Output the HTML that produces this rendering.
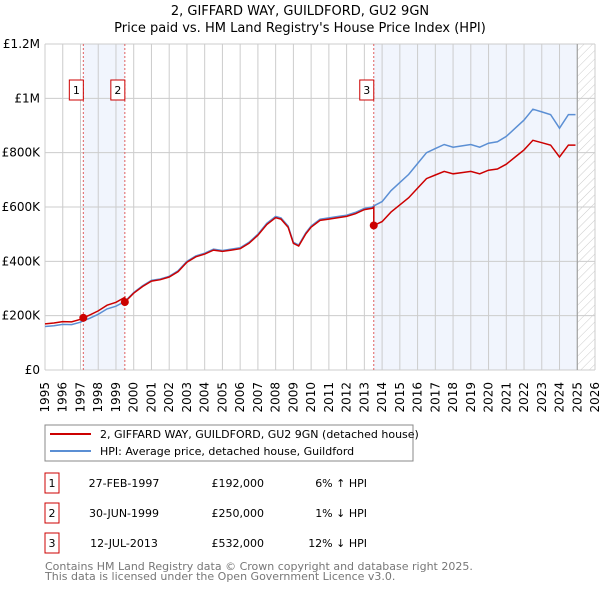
<!DOCTYPE html>
<html><head><meta charset="utf-8"><style>
body{margin:0;background:#fff;}
svg{display:block;font-family:"DejaVu Sans","Liberation Sans",sans-serif;}
</style></head><body>
<svg id="chart" width="600" height="590" viewBox="0 0 600 590" xmlns="http://www.w3.org/2000/svg">
<defs><pattern id="hatch" width="6" height="6" patternUnits="userSpaceOnUse" patternTransform="rotate(45)"><line x1="0" y1="0" x2="0" y2="6" stroke="#ccc" stroke-width="1"/></pattern></defs>
<text x="300" y="15" text-anchor="middle" font-size="13">2, GIFFARD WAY, GUILDFORD, GU2 9GN</text>
<text x="300" y="32" text-anchor="middle" font-size="13">Price paid vs. HM Land Registry's House Price Index (HPI)</text>
<g id="grid"></g>
<g id="marks"></g>
<g id="axes"></g>
<rect x="45" y="425" width="368" height="36" fill="#fff" stroke="#888"/>
<line x1="50" y1="434" x2="91" y2="434" stroke="#cc0000" stroke-width="2"/>
<text x="100" y="438" font-size="11">2, GIFFARD WAY, GUILDFORD, GU2 9GN (detached house)</text>
<line x1="50" y1="451" x2="91" y2="451" stroke="#5b8fd4" stroke-width="2"/>
<text x="100" y="455" font-size="11">HPI: Average price, detached house, Guildford</text>
<g id="table" font-size="11"></g>
<text x="45" y="570" font-size="11" fill="#777">Contains HM Land Registry data © Crown copyright and database right 2025.</text>
<text x="45" y="580" font-size="11" fill="#777">This data is licensed under the Open Government Licence v3.0.</text>
</svg>
<script>
const hpiYears=[1995,1995.5,1996,1996.5,1997,1997.16,1997.5,1998,1998.5,1999,1999.5,2000,2000.5,2001,2001.5,2002,2002.5,2003,2003.5,2004,2004.5,2005,2005.5,2006,2006.5,2007,2007.5,2008,2008.3,2008.7,2009,2009.3,2009.7,2010,2010.5,2011,2011.5,2012,2012.5,2013,2013.45,2013.53,2014,2014.5,2015,2015.5,2016,2016.5,2017,2017.5,2018,2018.5,2019,2019.5,2020,2020.5,2021,2021.5,2022,2022.5,2023,2023.5,2024,2024.5,2024.9];
const hpiValues=[160,163,168,167,176,181,190,205,225,235,252,285,310,330,335,345,365,400,420,430,445,440,445,450,470,500,540,565,560,530,470,460,505,530,555,560,565,570,580,595,600,604,620,660,690,720,760,800,815,830,820,825,830,820,835,840,860,890,920,960,950,940,890,940,940];
const saleYears=[1997.16,1999.5,2013.53];
const salePrices=[192,250,532];
const saleLabels=["1","2","3"];
const saleDates=["27-FEB-1997","30-JUN-1999","12-JUL-2013"];
const salePriceText=["£192,000","£250,000","£532,000"];
const saleHpiText=["6% ↑ HPI","1% ↓ HPI","12% ↓ HPI"];
const yTicks=[0,200,400,600,800,1000,1200];
const yTickLabels=["£0","£200K","£400K","£600K","£800K","£1M","£1.2M"];
const xStart=1995,xEnd=2026;
const L=45,R=595,T=44,B=370;
const xs=y=>L+(y-xStart)/(xEnd-xStart)*(R-L);
const ys=v=>B-v/1200*(B-T);
const NS="http://www.w3.org/2000/svg";
function mk(tag,attrs,parent){const e=document.createElementNS(NS,tag);for(const k in attrs)e.setAttribute(k,attrs[k]);parent.appendChild(e);return e;}
const grid=document.getElementById('grid'),marks=document.getElementById('marks'),axes=document.getElementById('axes'),table=document.getElementById('table');
let r=mk('rect',{x:xs(saleYears[0]),y:T,width:xs(saleYears[1])-xs(saleYears[0]),height:B-T,fill:'#eef3fc',opacity:0.8},grid);

r=mk('rect',{x:xs(saleYears[2]),y:T,width:xs(2025)-xs(saleYears[2]),height:B-T,fill:'#eef3fc',opacity:0.8},grid);

r=mk('rect',{x:xs(2025),y:T,width:R-xs(2025),height:B-T,fill:'url(#hatch)'},grid);

for(let yr=xStart;yr<=xEnd;yr++){
  const l=mk('line',{x1:xs(yr),x2:xs(yr),y1:T,y2:B,stroke:'#ccc','stroke-width':1},grid);
  
  const x=xs(yr)+4,y=382;
  const t=mk('text',{x:x,y:y,'text-anchor':'end','font-size':12,transform:'rotate(-90 '+x+' '+y+')'},axes);t.textContent=yr;
  
}
yTicks.forEach((v,i)=>{
  const l=mk('line',{x1:L,x2:R,y1:ys(v),y2:ys(v),stroke:'#ccc','stroke-width':1},grid);
  
  const t=mk('text',{x:L-5,y:ys(v)+4,'text-anchor':'end','font-size':12},axes);t.textContent=yTickLabels[i];
  
});
r=mk('line',{x1:xs(2025),x2:xs(2025),y1:T,y2:B,stroke:'#999','stroke-width':1},grid);

function hpiAt(t){for(let i=0;i<hpiYears.length-1;i++){if(t<=hpiYears[i+1]){const f=(t-hpiYears[i])/(hpiYears[i+1]-hpiYears[i]);return hpiValues[i]+f*(hpiValues[i+1]-hpiValues[i]);}}return hpiValues[hpiValues.length-1];}
saleYears.forEach((s,i)=>{
  const l=mk('line',{x1:xs(s),x2:xs(s),y1:T,y2:B,stroke:'#e06060','stroke-width':1,'stroke-dasharray':'2,2'},grid);
  
  const b=mk('rect',{x:xs(s)-14,y:80,width:14,height:20,fill:'#fff',stroke:'#cc0000'},marks);
  
  const t=mk('text',{x:xs(s)-7,y:94,'text-anchor':'middle','font-size':11},marks);t.textContent=saleLabels[i];
  
});
let d='';hpiYears.forEach((y,i)=>{d+=(i?'L':'M')+xs(y).toFixed(1)+','+ys(hpiValues[i]).toFixed(1);});
let p=mk('path',{d:d,fill:'none',stroke:'#5b8fd4','stroke-width':1.5},marks);

function saleIdx(t){let k=0;for(let i=0;i<saleYears.length;i++)if(t>=saleYears[i])k=i;return k;}
d='';hpiYears.forEach((y,i)=>{const k=saleIdx(y);const v=salePrices[k]*hpiValues[i]/hpiAt(saleYears[k]);d+=(i?'L':'M')+xs(y).toFixed(1)+','+ys(v).toFixed(1);
  if(i<hpiYears.length-1){const nk=saleIdx(hpiYears[i+1]);if(nk!==k){const s=saleYears[nk];d+='L'+xs(s).toFixed(1)+','+ys(salePrices[k]*hpiAt(s)/hpiAt(saleYears[k])).toFixed(1)+'L'+xs(s).toFixed(1)+','+ys(salePrices[nk]).toFixed(1);}}});
p=mk('path',{d:d,fill:'none',stroke:'#cc0000','stroke-width':1.5},marks);

saleYears.forEach((s,i)=>{const c=mk('circle',{cx:xs(s),cy:ys(salePrices[i]),r:4,fill:'#cc0000'},marks);
  });
saleYears.forEach((s,i)=>{const yc=483+i*30;
  const b=mk('rect',{x:45,y:yc-10,width:14,height:20,fill:'#fff',stroke:'#cc0000'},table);
  
  let t=mk('text',{x:52,y:yc+4,'text-anchor':'middle'},table);t.textContent=saleLabels[i];
  
  t=mk('text',{x:124,y:yc+4,'text-anchor':'middle'},table);t.textContent=saleDates[i];
  
  t=mk('text',{x:264,y:yc+4,'text-anchor':'end'},table);t.textContent=salePriceText[i];
  
  t=mk('text',{x:367,y:yc+4,'text-anchor':'end'},table);t.textContent=saleHpiText[i];
  
});
</script>
</body></html>
